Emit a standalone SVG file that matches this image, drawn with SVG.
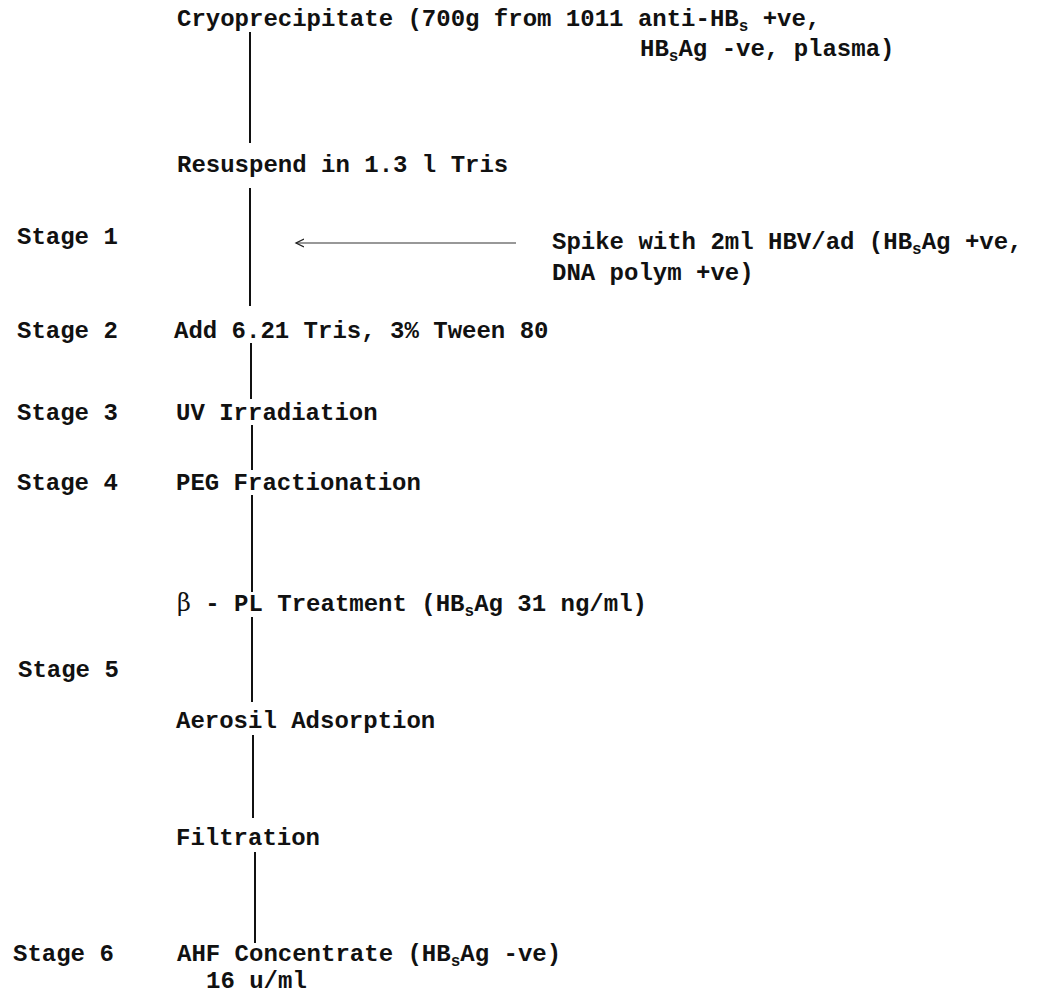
<svg xmlns="http://www.w3.org/2000/svg" width="1037" height="993" viewBox="0 0 1037 993">
<style>
text{font-family:"Liberation Mono","Courier New",monospace;font-weight:bold;font-size:24px;fill:#111}
.sub{font-size:16px}
.beta{font-family:"DejaVu Serif","Liberation Serif",serif;font-weight:normal}
.flow{stroke:#111;stroke-width:2;fill:none}
.spike{stroke:#333;stroke-width:1.2;fill:none}
</style>
<defs>
<marker id="open" markerWidth="12" markerHeight="12" refX="8" refY="6" orient="auto" markerUnits="userSpaceOnUse">
<path d="M0,2 L8,6 L0,10" fill="none" stroke="#222" stroke-width="1.3"/>
</marker>
</defs>
<g id="connectors">
<line class="flow" x1="250" y1="32" x2="250" y2="143"/>
<line class="flow" x1="250" y1="188" x2="250" y2="306"/>
<line class="flow" x1="251" y1="343" x2="251" y2="399"/>
<line class="flow" x1="252" y1="425" x2="252" y2="470"/>
<line class="flow" x1="252" y1="495" x2="252" y2="592"/>
<line class="flow" x1="252" y1="617" x2="252" y2="702"/>
<line class="flow" x1="253" y1="735" x2="253" y2="818"/>
<line class="flow" x1="255" y1="852" x2="255" y2="943"/>
<line class="spike" x1="516" y1="243" x2="296" y2="243" marker-end="url(#open)"/>
</g>
<g id="n-cryo">
<text x="177" y="26">Cryoprecipitate (700g from 1011 anti-HB<tspan class="sub" dy="5">s</tspan><tspan dy="-5"> +ve,</tspan></text>
<text x="640" y="56">HB<tspan class="sub" dy="5">s</tspan><tspan dy="-5">Ag -ve, plasma)</tspan></text>
</g>
<g id="n-resuspend"><text x="177" y="172">Resuspend in 1.3 l Tris</text></g>
<g id="n-stage1"><text x="17" y="244">Stage 1</text></g>
<g id="n-spike">
<text x="552" y="249">Spike with 2ml HBV/ad (HB<tspan class="sub" dy="5">s</tspan><tspan dy="-5">Ag +ve,</tspan></text>
<text x="552" y="280">DNA polym +ve)</text>
</g>
<g id="n-stage2"><text x="17" y="338">Stage 2</text><text x="174" y="338">Add 6.21 Tris, 3% Tween 80</text></g>
<g id="n-stage3"><text x="17" y="420">Stage 3</text><text x="176" y="420">UV Irradiation</text></g>
<g id="n-stage4"><text x="17" y="490">Stage 4</text><text x="176" y="490">PEG Fractionation</text></g>
<g id="n-betapl"><text x="177" y="611"><tspan class="beta">β</tspan> - PL Treatment (HB<tspan class="sub" dy="5">s</tspan><tspan dy="-5">Ag 31 ng/ml)</tspan></text></g>
<g id="n-stage5"><text x="18" y="677">Stage 5</text></g>
<g id="n-aerosil"><text x="176" y="728">Aerosil Adsorption</text></g>
<g id="n-filtration"><text x="176" y="845">Filtration</text></g>
<g id="n-stage6">
<text x="13" y="961">Stage 6</text>
<text x="177" y="961">AHF Concentrate (HB<tspan class="sub" dy="5">s</tspan><tspan dy="-5">Ag -ve)</tspan></text>
<text x="206" y="988">16 u/ml</text>
</g>
</svg>
